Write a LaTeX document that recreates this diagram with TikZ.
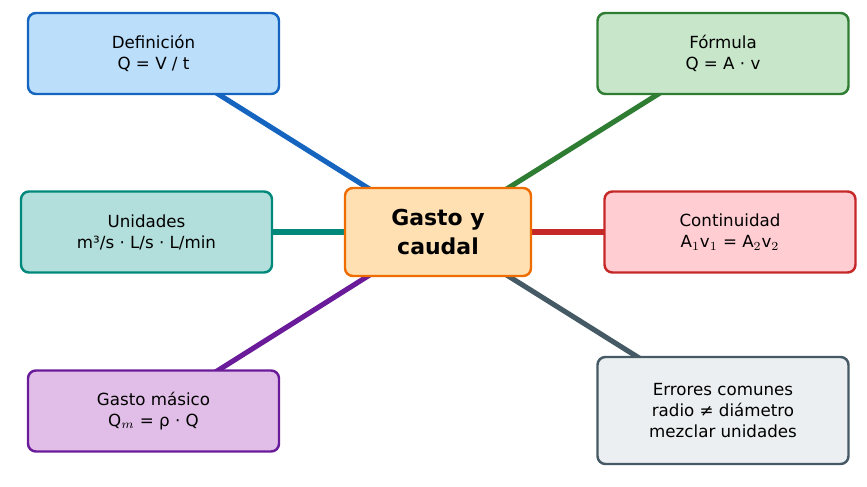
\documentclass[tikz,border=0pt]{standalone}
\usepackage{fontspec}
\setmainfont{DejaVu Sans}
\usetikzlibrary{backgrounds}
\definecolor{defF}{HTML}{BBDEFB}\definecolor{defD}{HTML}{1565C0}
\definecolor{forF}{HTML}{C8E6C9}\definecolor{forD}{HTML}{2E7D32}
\definecolor{uniF}{HTML}{B2DFDB}\definecolor{uniD}{HTML}{00897B}
\definecolor{conF}{HTML}{FFCDD2}\definecolor{conD}{HTML}{C62828}
\definecolor{masF}{HTML}{E1BEE7}\definecolor{masD}{HTML}{6A1B9A}
\definecolor{errF}{HTML}{ECEFF1}\definecolor{errD}{HTML}{455A64}
\definecolor{cenF}{HTML}{FFE0B2}\definecolor{cenD}{HTML}{EF6C00}
\begin{document}
\begin{tikzpicture}[x=0.02cm, y=-0.02cm,
  box/.style={draw, rectangle, rounded corners=4.5pt, line width=1.4pt, align=center,
    minimum width=251*0.02cm, minimum height=81*0.02cm, font=\fontsize{9.5}{12}\selectfont},
  link/.style={line width=2.9pt}
]
\useasboundingbox (0,0) rectangle (867,487);

% Center
\node[box, fill=cenF, draw=cenD, minimum width=186*0.02cm, minimum height=88*0.02cm,
  font=\fontsize{12.5}{16}\selectfont\bfseries] (gasto) at (438,232) {Gasto y\\caudal};

% Branches
\node[box, fill=defF, draw=defD] (def) at (153.5,53.5) {Definición\\Q = V / t};
\node[box, fill=forF, draw=forD] (form) at (723,53.5) {Fórmula\\Q = A · v};
\node[box, fill=uniF, draw=uniD] (uni) at (146.5,232) {Unidades\\m³/s · L/s · L/min};
\node[box, fill=conF, draw=conD] (cont) at (730,232) {Continuidad\\A$_1$v$_1$ = A$_2$v$_2$};
\node[box, fill=masF, draw=masD] (masico) at (153.5,411) {Gasto másico\\Q$_m$ = ρ · Q};
\node[box, fill=errF, draw=errD, minimum height=107*0.02cm] (err) at (723,410.5)
  {Errores comunes\\radio ≠ diámetro\\mezclar unidades};

% Connectors
\begin{scope}[on background layer]
\draw[link, defD] (gasto.center) -- (def.center);
\draw[link, forD] (gasto.center) -- (form.center);
\draw[link, uniD] (gasto.center) -- (uni.center);
\draw[link, conD] (gasto.center) -- (cont.center);
\draw[link, masD] (gasto.center) -- (masico.center);
\draw[link, errD] (gasto.center) -- (err.center);
\end{scope}
\end{tikzpicture}
\end{document}
